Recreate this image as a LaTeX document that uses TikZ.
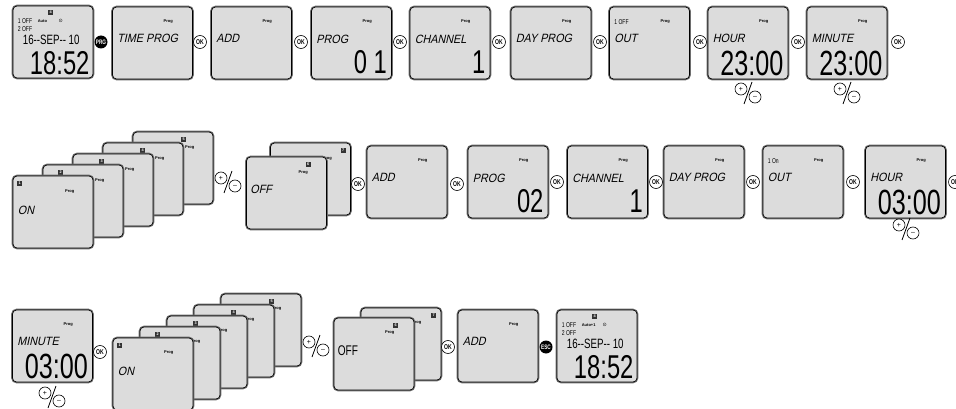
\documentclass[tikz,border=0pt]{standalone}
\usepackage{xcolor}
\usepackage{fontspec}
\usepackage{tikz}
\usetikzlibrary{positioning, calc}
\setmainfont{Liberation Sans}
\newfontfamily\lcdfont[FakeSlant=0.22, FakeStretch=0.9]{Liberation Sans}
\newfontfamily\segfont[FakeStretch=0.72]{Liberation Sans}
\newfontfamily\symfont{DejaVu Sans}
\definecolor{lcdgray}{HTML}{DCDCDC}
\definecolor{rimgray}{HTML}{6E6E6E}

\tikzset{
  screen/.style={rectangle, rounded corners=4pt, minimum width=80pt, minimum height=72pt,
    inner sep=0pt, fill=lcdgray, draw=black, line width=0.7pt,
    preaction={draw=rimgray, line width=2.6pt}},
  lcdword/.style={anchor=west, inner sep=0pt, font=\lcdfont\fontsize{12}{12}\selectfont},
  bigdigits/.style={anchor=east, inner sep=0pt, font=\segfont\fontsize{33}{33}\selectfont},
  timedigits/.style={anchor=east, inner sep=0pt, font=\segfont\fontsize{35}{35}\selectfont},
  datetext/.style={anchor=west, inner sep=0pt, font=\segfont\fontsize{13.5}{13.5}\selectfont},
  tinytext/.style={anchor=west, inner sep=0pt, font=\segfont\fontsize{7}{7}\selectfont},
  microtext/.style={anchor=west, inner sep=0pt, font=\bfseries\fontsize{4}{4}\selectfont},
  progtag/.style={inner sep=0pt, font=\bfseries\fontsize{4}{4}\selectfont},
  dayicon/.style={fill=black!80, text=white, inner sep=0pt, minimum size=5pt,
    font=\bfseries\fontsize{3.8}{4}\selectfont},
  okbtn/.style={circle, draw=black, line width=0.6pt, fill=white, minimum size=13pt,
    inner sep=0pt, font=\segfont\bfseries\fontsize{7}{7}\selectfont},
  keybtn/.style={circle, fill=black, text=white, minimum size=13pt, inner sep=0pt,
    font=\segfont\bfseries\fontsize{6.5}{6.5}\selectfont},
  pmbtn/.style={circle, draw=black, line width=0.6pt, fill=white, minimum size=12pt,
    inner sep=0pt, font=\fontsize{7}{7}\selectfont},
  plusminus/.pic={
    \node[pmbtn] (-p) at (-7,-4) {+};
    \node[pmbtn] (-m) at (7,4) {--};
    \draw[line width=0.8pt] (4,-11) -- (-4,11);
  }
}

\begin{document}
\begin{tikzpicture}[x=1pt, y=-1pt]
    \path[use as bounding box, fill=white] (0,0) rectangle (956,409);

    \foreach \n/\x/\y/\a in {clkA/53/42/Auto, clkB/597/346/Auto+1} {
      \node[screen] (\n) at (\x,\y) {};
      \node[dayicon] (\n-day) at ([shift={(38,7)}]\n.north west) {4};
      \node[tinytext] (\n-o1) at ([shift={(5,15)}]\n.north west) {1 OFF};
      \node[microtext] (\n-auto) at ([shift={(25,15)}]\n.north west) {\a};
      \node[inner sep=0pt, font=\symfont\fontsize{5}{5}\selectfont] (\n-sym)
        at ([shift={(48,15)}]\n.north west) {⊙};
      \node[tinytext] (\n-o2) at ([shift={(5,23)}]\n.north west) {2 OFF};
      \node[datetext] (\n-date) at ([shift={(10,34)}]\n.north west) {16-{}-SEP-{}- 10};
      \node[bigdigits] (\n-time) at ([shift={(77,57)}]\n.north west) {18:52};
    }

    \foreach \n/\x/\y/\w in {tprog/152.5/43/TIME PROG, addA/251.5/43/ADD, dayA/551/43/DAY PROG,
                            addB/407/182/ADD, dayB/704/182/DAY PROG, addC/498/346/ADD} {
      \node[screen] (\n) at (\x,\y) {};
      \node[progtag] (\n-tag) at ([shift={(56,15)}]\n.north west) {Prog};
      \node[lcdword] (\n-w) at ([shift={(5,32)}]\n.north west) {\w};
    }

    \foreach \n/\x/\y/\w/\v in {progA/351.5/43/PROG/0 1, chanA/450/43/CHANNEL/1,
                               progB/508/182/PROG/02, chanB/607.5/182/CHANNEL/1} {
      \node[screen] (\n) at (\x,\y) {};
      \node[progtag] (\n-tag) at ([shift={(56,15)}]\n.north west) {Prog};
      \node[lcdword] (\n-w) at ([shift={(5,33)}]\n.north west) {\w};
      \node[bigdigits] (\n-v) at ([shift={(76,55)}]\n.north west) {\v};
    }

    \foreach \n/\x/\y/\w/\v in {hourA/748/43/HOUR/23:00, minA/847/43/MINUTE/23:00,
                               hourB/905.5/182/HOUR/03:00, minB/52.5/346/MINUTE/03:00} {
      \node[screen] (\n) at (\x,\y) {};
      \node[progtag] (\n-tag) at ([shift={(56,15)}]\n.north west) {Prog};
      \node[lcdword] (\n-w) at ([shift={(5,32)}]\n.north west) {\w};
      \node[timedigits] (\n-v) at ([shift={(76,56.5)}]\n.north west) {\v};
    }

    \foreach \n/\x/\y/\s in {outA/649.5/43/1 OFF, outB/803/182/1 On} {
      \node[screen] (\n) at (\x,\y) {};
      \node[progtag] (\n-tag) at ([shift={(56,15)}]\n.north west) {Prog};
      \node[tinytext] (\n-s) at ([shift={(5,15)}]\n.north west) {\s};
      \node[lcdword] (\n-w) at ([shift={(5,32)}]\n.north west) {OUT};
    }

    \foreach \d in {5,4,...,1} {
      \node[screen] (onA\d) at ({53+30*(\d-1)},{212-11*(\d-1)}) {};
      \node[dayicon] (onA\d-day) at ([shift={({7+11*(\d-1)},8)}]onA\d.north west) {\d};
      \node[progtag] (onA\d-tag) at ([shift={(57,16)}]onA\d.north west) {Prog};
    }
    \node[lcdword] (onA-w) at ([shift={(5,35)}]onA1.north west) {ON};

    \foreach \d/\x/\y in {7/310.5/179, 6/286.5/193} {
      \node[screen] (offA\d) at (\x,\y) {};
      \node[dayicon] (offA\d-day) at ([shift={({7+11*(\d-1)},8)}]offA\d.north west) {\d};
      \node[progtag] (offA\d-tag) at ([shift={(57,16)}]offA\d.north west) {Prog};
    }
    \node[lcdword] (offA-w) at ([shift={(4,33)}]offA6.north west) {OFF};

    \foreach \d in {5,4,...,1} {
      \node[screen] (onB\d) at ({153+27*(\d-1)},{374-11*(\d-1)}) {};
      \node[dayicon] (onB\d-day) at ([shift={({7+11*(\d-1)},8)}]onB\d.north west) {\d};
      \node[progtag] (onB\d-tag) at ([shift={(56,15)}]onB\d.north west) {Prog};
    }
    \node[lcdword] (onB-w) at ([shift={(5,34)}]onB1.north west) {ON};

    \foreach \d/\x/\y in {7/401/344, 6/374/354} {
      \node[screen] (offB\d) at (\x,\y) {};
      \node[dayicon] (offB\d-day) at ([shift={({7+11*(\d-1)},8)}]offB\d.north west) {\d};
      \node[progtag] (offB\d-tag) at ([shift={(56,15)}]offB\d.north west) {Prog};
    }
    \node[anchor=west, inner sep=0pt, font=\segfont\fontsize{14}{14}\selectfont] (offB-w)
      at ([shift={(4,33)}]offB6.north west) {OFF};

    \node[keybtn] (prg) at (101,42) {PRG};
    \foreach \x [count=\i] in {200,301,400,499,600,700,798,898}
      \node[okbtn] (okA\i) at (\x,42) {OK};
    \foreach \x/\y [count=\i] in {358/184, 457/184, 557/182, 656/182, 753/182, 853/182, 955/182}
      \node[okbtn] (okB\i) at (\x,\y) {OK};
    \node[okbtn] (okC1) at (100,352) {OK};
    \node[okbtn] (okC2) at (448,347) {OK};
    \node[keybtn] (esc) at (546,347) {ESC};

    \pic (pmA) at (748,93) {plusminus};
    \pic (pmB) at (847,93) {plusminus};
    \pic (pmC) at (228,182) {plusminus};
    \pic (pmD) at (906,229) {plusminus};
    \pic (pmE) at (52,397) {plusminus};
    \pic (pmF) at (316,346) {plusminus};
  \end{tikzpicture}
\end{document}
